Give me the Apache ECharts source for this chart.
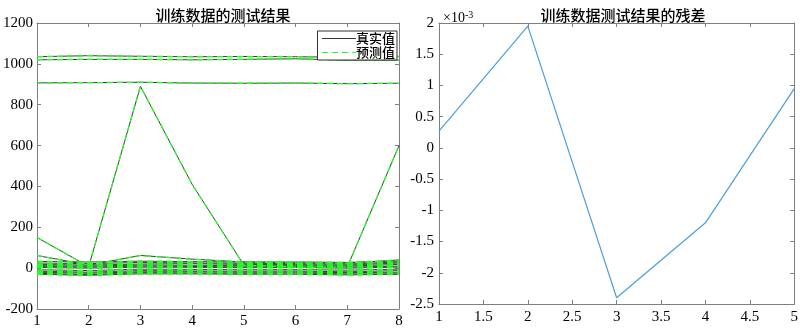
<!DOCTYPE html>
<html>
<head>
<meta charset="utf-8">
<script src="https://cdn.jsdelivr.net/npm/echarts@6/dist/echarts.min.js"></script>
<style>
  html, body { margin: 0; padding: 0; background: #fff; }
  #chart { width: 801px; height: 329px; }
</style>
</head>
<body>
<div id="chart"></div>
<script>
// 训练数据：样本序号
const sampleX = [1, 2, 3, 4, 5, 6, 7, 8];

// 真实值（预测值与之几乎重合，残差在 1e-3 量级）
const trueLines = [
  [1035, 1040, 1037, 1035, 1036, 1035, 1032, 1036],
  [1020, 1022, 1022, 1020, 1022, 1025, 1018, 1018],
  [907, 908, 910, 906, 905, 906, 903, 905],
  [150, 8, 890, 410, 15, 5, 5, 600],
  [62, 15, 62, 44, 30, 25, 25, 40],
  [33, 30, 34, 32, 30, 30, 28, 35],
  [25, 22, 28, 25, 24, 22, 20, 30],
  [18, 15, 20, 22, 18, 17, 15, 25],
  [12, 10, 15, 14, 12, 12, 10, 18],
  [8, 5, 10, 8, 6, 8, 5, 10],
  [3, 0, 5, 4, 2, 3, 0, 5],
  [-8, -12, -5, -6, -8, -7, -10, -5],
  [-15, -20, -12, -14, -15, -14, -18, -12],
  [-20, -25, -18, -18, -20, -19, -22, -20],
  [-25, -32, -22, -24, -25, -24, -28, -28],
  [-30, -35, -28, -28, -30, -30, -33, -30]
];
const predLines = trueLines;

// 残差
const residX = [1, 2, 3, 4, 5];
const residY = [0.00027, 0.00195, -0.0024, -0.0012, 0.00095];

const serif = "Liberation Serif";
const cjk = "Noto Sans CJK SC";
const boxColor = "#7f7f7f";

const toPairs = (xs, ys) => xs.map((x, i) => [x, ys[i]]);

const series = [];
trueLines.forEach((ys) => {
  series.push({
    name: "真实值",
    type: "line",
    xAxisIndex: 0,
    yAxisIndex: 0,
    data: toPairs(sampleX, ys),
    symbol: "none",
    lineStyle: { color: "#3a3a3a", width: 1 },
    itemStyle: { color: "#3a3a3a" },
  });
});
predLines.forEach((ys) => {
  series.push({
    name: "预测值",
    type: "line",
    xAxisIndex: 0,
    yAxisIndex: 0,
    data: toPairs(sampleX, ys),
    symbol: "none",
    lineStyle: { color: "#22ff22", width: 1.3, type: [6, 4] },
    itemStyle: { color: "#22ff22" },
  });
});
series.push({
  name: "残差",
  type: "line",
  xAxisIndex: 2,
  yAxisIndex: 2,
  data: toPairs(residX, residY),
  symbol: "none",
  lineStyle: { color: "#4a9fdc", width: 1.2 },
});

const tickIn = { show: true, inside: true, length: 4, lineStyle: { color: boxColor } };
const lineBox = { show: true, onZero: false, lineStyle: { color: boxColor, width: 1 } };

function label(margin, fmt) {
  return {
    margin: margin,
    showMinLabel: true,
    showMaxLabel: true,
    color: "#000",
    fontFamily: serif,
    fontSize: 15,
    formatter: fmt || ((v) => String(v)),
  };
}

const option = {
  animation: false,
  backgroundColor: "#fff",
  textStyle: { fontFamily: serif },
  title: [
    {
      text: "训练数据的测试结果",
      left: 218,
      top: 3,
      textAlign: "center",
      textStyle: { fontFamily: cjk, fontSize: 15, fontWeight: 500, color: "#000" },
    },
    {
      text: "训练数据测试结果的残差",
      left: 618,
      top: 3,
      textAlign: "center",
      textStyle: { fontFamily: cjk, fontSize: 15, fontWeight: 500, color: "#000" },
    },
    {
      text: "×10{sup|-3}",
      left: 438,
      top: 5,
      textStyle: {
        fontFamily: serif,
        fontSize: 14,
        fontWeight: "normal",
        color: "#000",
        rich: { sup: { fontFamily: serif, fontSize: 10, color: "#000", verticalAlign: "top", padding: [0, 0, 6, 0] } },
      },
    },
  ],
  legend: {
    data: ["真实值", "预测值"],
    orient: "vertical",
    right: 404,
    top: 31,
    itemWidth: 34,
    itemHeight: 10,
    itemGap: 1,
    padding: [1, 2, 1, 4],
    backgroundColor: "#fff",
    borderColor: "#333",
    borderWidth: 1,
    borderRadius: 0,
    itemStyle: { opacity: 0 },
    lineStyle: { width: 1 },
    textStyle: { fontFamily: cjk, fontSize: 13, fontWeight: 500, color: "#000", padding: [0, 0, 0, -5] },
  },
  grid: [
    { left: 37, right: 402, top: 23, bottom: 20 },
    { left: 439, right: 3, top: 23, bottom: 25 },
  ],
  xAxis: [
    {
      type: "value", gridIndex: 0, min: 1, max: 8, interval: 1,
      axisLine: lineBox, axisTick: tickIn, splitLine: { show: false },
      axisLabel: label(5),
    },
    {
      type: "value", gridIndex: 0, position: "top", min: 1, max: 8, interval: 1,
      axisLine: lineBox, axisTick: tickIn, splitLine: { show: false }, axisLabel: { show: false },
    },
    {
      type: "value", gridIndex: 1, min: 1, max: 5, interval: 0.5,
      axisLine: lineBox, axisTick: tickIn, splitLine: { show: false },
      axisLabel: label(6),
    },
    {
      type: "value", gridIndex: 1, position: "top", min: 1, max: 5, interval: 0.5,
      axisLine: lineBox, axisTick: tickIn, splitLine: { show: false }, axisLabel: { show: false },
    },
  ],
  yAxis: [
    {
      type: "value", gridIndex: 0, min: -200, max: 1200, interval: 200,
      axisLine: lineBox, axisTick: tickIn, splitLine: { show: false },
      axisLabel: label(4),
    },
    {
      type: "value", gridIndex: 0, position: "right", min: -200, max: 1200, interval: 200,
      axisLine: lineBox, axisTick: tickIn, splitLine: { show: false }, axisLabel: { show: false },
    },
    {
      type: "value", gridIndex: 1, min: -0.0025, max: 0.002, interval: 0.0005,
      axisLine: lineBox, axisTick: tickIn, splitLine: { show: false },
      axisLabel: label(5, (v) => String(parseFloat((v * 1000).toFixed(1)))),
    },
    {
      type: "value", gridIndex: 1, position: "right", min: -0.0025, max: 0.002, interval: 0.0005,
      axisLine: lineBox, axisTick: tickIn, splitLine: { show: false }, axisLabel: { show: false },
    },
  ],
  series: series,
};

const chart = echarts.init(document.getElementById("chart"));
chart.setOption(option);
</script>
</body>
</html>
